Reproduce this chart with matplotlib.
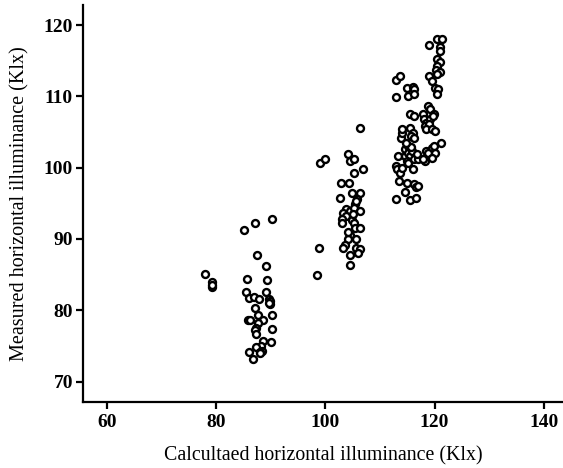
import matplotlib
matplotlib.use("Agg")
import matplotlib.pyplot as plt

plt.rcParams["font.family"] = ["Liberation Serif", "DejaVu Serif"]

# calculated (x) vs measured (y) horizontal illuminance, Klx
group_low_x = [78.0, 79.3, 79.3, 79.2, 85.2, 87.2, 90.2, 87.5, 89.2, 85.7, 89.4,
               85.4, 86.0, 87.0, 87.9, 89.2, 89.7, 89.9, 89.9, 89.6, 87.1, 87.6,
               85.8, 86.2, 90.2, 88.5, 87.7, 87.4, 87.2, 87.3, 90.2, 90.1, 88.6,
               88.2, 87.4, 88.4, 88.1, 86.1, 86.8, 88.0]
group_low_y = [85.1, 83.9, 83.3, 83.6, 91.2, 92.3, 92.8, 87.7, 86.2, 84.4, 84.2,
               82.6, 81.7, 81.8, 81.6, 82.5, 81.6, 81.3, 80.9, 81.0, 80.3, 79.4,
               78.7, 78.7, 79.3, 78.7, 78.2, 77.5, 77.2, 76.7, 77.4, 75.6, 75.7,
               75.0, 74.9, 74.3, 74.1, 74.1, 73.1, 74.0]

group_mid_x = [98.4, 98.8, 99.1, 99.9, 104.1, 104.5, 105.2, 105.3, 106.9, 106.3,
               102.8, 104.4, 102.7, 104.8, 106.3, 105.8, 105.4, 103.8, 104.5,
               105.2, 106.4, 103.3, 103.8, 103.0, 103.1, 104.8, 105.2, 105.4,
               106.3, 104.5, 104.1, 105.6, 103.6, 103.3, 105.6, 106.3, 104.5,
               106.0, 104.5, 105.0, 105.6, 104.2]
group_mid_y = [84.9, 88.8, 100.6, 101.2, 101.9, 101.0, 101.2, 99.3, 99.8, 105.5,
               97.8, 97.8, 95.7, 96.5, 96.5, 95.6, 94.9, 94.2, 93.9, 94.4, 93.9,
               93.7, 93.2, 92.8, 92.2, 92.7, 92.2, 91.6, 91.5, 90.5, 90.0, 90.0,
               89.2, 88.8, 88.8, 88.6, 87.8, 88.0, 86.3, 93.5, 95.3, 91.0]

group_high_x = [112.9, 114.5, 115.5, 116.6, 114.9, 116.3, 116.6, 117.0, 116.0,
                113.4, 112.9, 113.2, 113.6, 114.0, 113.3, 114.6, 114.5, 115.1,
                115.2, 115.5, 115.9, 115.0, 115.2, 116.3, 117.0, 113.9, 114.0,
                114.0, 115.5, 116.0, 115.6, 116.3, 115.5, 116.3, 112.9, 113.6,
                113.0, 115.0, 116.0, 116.3, 115.2, 116.3, 117.9, 118.7, 119.2,
                119.9, 118.1, 118.5, 119.2, 119.7, 118.2, 118.9, 118.4, 119.5,
                120.0, 118.5, 119.5, 118.7, 120.0, 119.5, 119.9, 118.2, 117.9,
                121.2, 118.9, 120.5, 121.3, 120.9, 120.9, 120.5, 120.9, 120.5,
                120.2, 120.9, 120.5, 118.9, 119.5, 120.1, 120.7, 120.4, 115.6,
                114.8, 116.8]
group_high_y = [95.6, 96.6, 95.4, 95.8, 97.9, 97.7, 97.3, 97.4, 99.8, 98.1, 100.2,
                99.8, 99.3, 100.0, 101.6, 101.6, 102.6, 103.1, 102.1, 101.6,
                102.4, 100.9, 100.7, 101.2, 101.2, 104.2, 104.9, 105.4, 105.6,
                104.9, 104.5, 104.2, 107.5, 107.3, 112.3, 112.9, 109.9, 111.2,
                111.3, 111.0, 110.1, 110.3, 107.5, 108.7, 108.2, 107.5, 106.8,
                106.3, 106.8, 107.3, 105.9, 106.1, 105.4, 105.4, 105.2, 102.4,
                102.7, 102.0, 102.1, 101.4, 103.1, 100.9, 101.2, 103.4, 117.2,
                118.0, 118.1, 116.9, 116.3, 115.3, 114.8, 114.3, 113.7, 113.4,
                113.1, 112.8, 112.2, 111.2, 111.0, 110.4, 102.9, 103.5, 101.9]

x_ticks = [60, 80, 100, 120, 140]
y_ticks = [70, 80, 90, 100, 110, 120]

fig = plt.figure(figsize=(5.63, 4.68), dpi=100)
ax = fig.add_axes([0.147, 0.142, 0.853, 0.847])

for gx, gy in [(group_low_x, group_low_y), (group_mid_x, group_mid_y),
               (group_high_x, group_high_y)]:
    ax.plot(gx, gy, "o", ls="none", ms=5.0, mfc="white", mec="black", mew=1.7)

ax.set_xlim(55.6, 143.5)
ax.set_ylim(67.2, 122.8)
ax.set_xticks(x_ticks)
ax.set_yticks(y_ticks)
ax.spines["top"].set_visible(False)
ax.spines["right"].set_visible(False)
for s in ("left", "bottom"):
    ax.spines[s].set_linewidth(1.6)
ax.tick_params(direction="out", length=5, width=1.6, labelsize=14)
ax.tick_params(axis="x", pad=4)
ax.tick_params(axis="y", pad=2)
for lab in ax.get_xticklabels() + ax.get_yticklabels():
    lab.set_fontweight("bold")

ax.set_xlabel("Calcultaed horizontal illuminance (Klx)", fontsize=14.3, labelpad=11)
ax.set_ylabel("Measured horizontal illuminance (Klx)", fontsize=14.5, labelpad=10)

fig.savefig("out.png", dpi=100)
